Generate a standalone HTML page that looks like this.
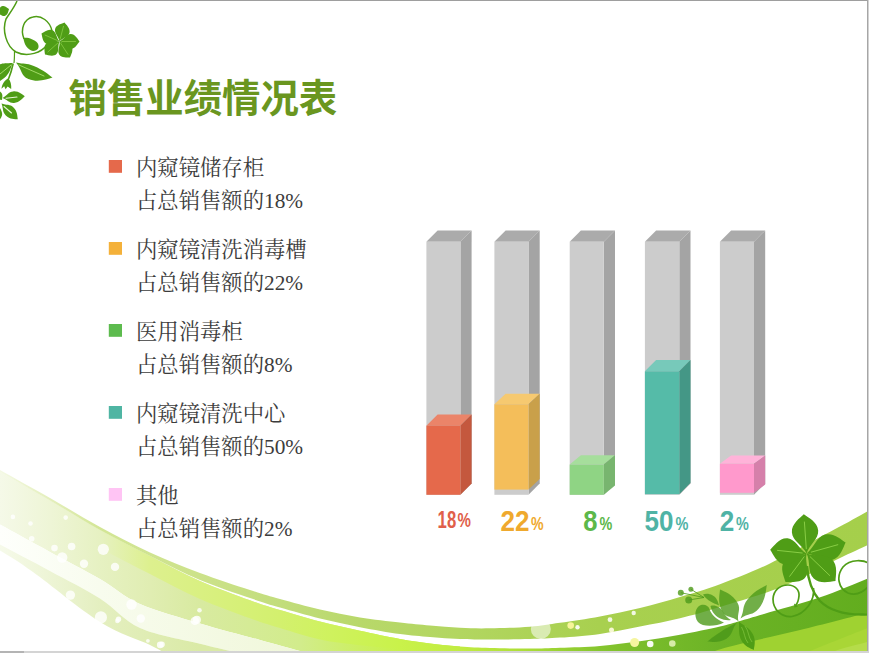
<!DOCTYPE html>
<html lang="zh-CN"><head><meta charset="utf-8"><title>销售业绩情况表</title>
<style>
html,body{margin:0;padding:0;background:#fff}
body{width:869px;height:653px;position:relative;overflow:hidden;font-family:"Liberation Sans","Noto Sans CJK SC",sans-serif}
#art{position:absolute;left:0;top:0;width:869px;height:653px;display:block}
.bt{position:absolute;left:0;top:0;width:869px;height:1px;background:#9e9e9e}
.br{position:absolute;left:867px;top:0;width:1px;height:653px;background:#a6a6a6;border-right:1px solid #d2d2d2}
.bb{position:absolute;left:0;top:651px;width:869px;height:2px;background:#d4d4d4}
.bb i{display:block;width:24px;height:2px;background:#b4b4b4}
.t{color:transparent}
h1.t{position:absolute;left:68px;top:72px;margin:0;font-size:38.4px;line-height:50px;font-weight:bold;white-space:nowrap;letter-spacing:0}
ul.t{list-style:none;margin:0;padding:0}
ul.t li{position:absolute;left:135px;width:260px;font-family:"Liberation Serif","Noto Serif CJK SC",serif;font-size:21.33px;line-height:33px;white-space:nowrap}
ul.t p{margin:0}
.lab{position:absolute;left:0;top:505px;height:30px;font-weight:bold;font-size:24px;line-height:30px}
.lab span{position:absolute;top:0;white-space:nowrap}
</style></head>
<body>
<svg id="art" width="869" height="653" viewBox="0 0 869 653" aria-hidden="true">
<defs>
<linearGradient id="gRim" gradientUnits="userSpaceOnUse" x1="0" y1="0" x2="869" y2="0"><stop offset="0.000" stop-color="#F4F9E4"/><stop offset="0.058" stop-color="#E4EFBC"/><stop offset="0.115" stop-color="#D3E696"/><stop offset="0.230" stop-color="#CCE28A"/><stop offset="0.322" stop-color="#C2DD7C"/><stop offset="0.414" stop-color="#B8D86A"/><stop offset="0.529" stop-color="#B2D660"/><stop offset="0.690" stop-color="#A8D04F"/><stop offset="1.000" stop-color="#A5CF4B"/></linearGradient>
<linearGradient id="gBody" gradientUnits="userSpaceOnUse" x1="0" y1="0" x2="869" y2="0"><stop offset="0.000" stop-color="#F5F9E8"/><stop offset="0.058" stop-color="#EEF5D6"/><stop offset="0.115" stop-color="#E6F1C2"/><stop offset="0.173" stop-color="#E0EDB2"/><stop offset="0.230" stop-color="#D8EAA0"/><stop offset="0.345" stop-color="#D2EC8C"/><stop offset="0.414" stop-color="#CCEF62"/><stop offset="0.460" stop-color="#C9F24A"/><stop offset="0.529" stop-color="#C1EC42"/><stop offset="0.598" stop-color="#AEDF38"/><stop offset="0.690" stop-color="#85C52E"/><stop offset="0.736" stop-color="#7ABD2B"/><stop offset="0.829" stop-color="#6CB326"/><stop offset="1.000" stop-color="#62AD1E"/></linearGradient>
<linearGradient id="gBright" gradientUnits="userSpaceOnUse" x1="0" y1="0" x2="869" y2="0"><stop offset="0.000" stop-color="#F5F9E8"/><stop offset="0.058" stop-color="#EEF5D6"/><stop offset="0.115" stop-color="#E6F1C2"/><stop offset="0.173" stop-color="#DDF08E"/><stop offset="0.322" stop-color="#D3F06E"/><stop offset="0.380" stop-color="#CFF25E"/><stop offset="0.460" stop-color="#C9F24A"/><stop offset="0.529" stop-color="#C1EC42"/></linearGradient>
<linearGradient id="gLow" gradientUnits="userSpaceOnUse" x1="0" y1="0" x2="200" y2="0"><stop offset="0.000" stop-color="#F6FAEA"/><stop offset="0.500" stop-color="#E4EFC0"/><stop offset="1.000" stop-color="#DAEAA6"/></linearGradient>
<linearGradient id="gW1" gradientUnits="userSpaceOnUse" x1="0" y1="0" x2="300" y2="0"><stop offset="0.000" stop-color="#FEFFFC"/><stop offset="0.333" stop-color="#F8FCEE"/><stop offset="1.000" stop-color="#F0F7DA"/></linearGradient>
</defs>
<path d="M-20,461C-16.7,462.8 -11.7,465.4 0,472C11.7,478.6 33.3,490.8 50,500.5C66.7,510.2 83.3,520.8 100,530C116.7,539.2 133.3,547.5 150,556C166.7,564.5 183.3,573.6 200,581C216.7,588.4 236.7,595.5 250,600.3C263.3,605.1 268.3,606.5 280,610C291.7,613.5 306.7,618 320,621.5C333.3,625 346.7,627.9 360,630.8C373.3,633.7 388.3,636.9 400,639C411.7,641.1 420,642.2 430,643.5C440,644.8 450,645.9 460,646.6C470,647.4 478.3,647.7 490,648C501.7,648.3 518.3,648.6 530,648.6C541.7,648.6 548.3,648.2 560,647.8C571.7,647.3 586.7,647 600,645.9C613.3,644.8 626.7,643.1 640,641.3C653.3,639.4 666.7,637.3 680,634.8C693.3,632.3 710,628.8 720,626.5C730,624.2 732.7,623.1 740,621C747.3,618.9 750.8,617.9 764,614C777.2,610.1 802,603.6 819.5,597.6C837,591.6 857.2,582.6 869,578C880.8,573.4 886.5,571.3 890,570L890,660C738.3,660 131.7,660 -20,660Z" fill="url(#gBody)"/>
<path d="M-20,461C-16.7,462.8 -11.7,465.4 0,472C11.7,478.6 33.3,490.8 50,500.5C66.7,510.2 83.3,520.8 100,530C116.7,539.2 133.3,547.5 150,556C166.7,564.5 183.3,573.6 200,581C216.7,588.4 236.7,595.5 250,600.3C263.3,605.1 268.3,606.5 280,610C291.7,613.5 306.7,618 320,621.5C333.3,625 346.7,627.9 360,630.8C373.3,633.7 388.3,636.9 400,639C411.7,641.1 420,642.2 430,643.5C440,644.8 455,646.1 460,646.6L460,649C455,649.1 440,649.6 430,649.5C420,649.4 411.7,649.3 400,648.6C388.3,647.9 373.3,646.7 360,645.2C346.7,643.7 333.3,642.4 320,639.5C306.7,636.6 291.7,631.5 280,628C268.3,624.5 263.3,623.1 250,618.3C236.7,613.5 216.7,606.4 200,599C183.3,591.6 166.7,582.5 150,574C133.3,565.5 116.7,557.2 100,548C83.3,538.8 66.7,528.2 50,518.5C33.3,508.8 11.7,496.6 0,490C-11.7,483.4 -16.7,480.8 -20,479Z" fill="url(#gBright)"/>
<path d="M-20,459C-16.7,460.8 -11.7,463.5 0,470C11.7,476.5 33.3,488.5 50,498C66.7,507.5 83.3,517.9 100,527C116.7,536.1 133.3,544.7 150,552.4C166.7,560.1 183.3,566.7 200,573C216.7,579.3 236.7,585.7 250,590C263.3,594.3 268.3,595.8 280,599C291.7,602.2 306.7,606.4 320,609.5C333.3,612.6 346.7,615.3 360,617.5C373.3,619.7 388.3,621.2 400,622.5C411.7,623.8 420,624.6 430,625.5C440,626.4 450,627.3 460,627.8C470,628.3 478.3,628.5 490,628.3C501.7,628.1 518.3,627.6 530,626.7C541.7,625.8 548.3,624.5 560,622.8C571.7,621.1 586.7,618.9 600,616.4C613.3,613.9 626.7,611.2 640,608C653.3,604.8 666.7,601 680,597C693.3,593 705,589.8 720,584.2C735,578.6 750.3,572.9 770,563.5C789.7,554.1 821.5,536.4 838,527.6C854.5,518.8 860.3,515.3 869,510.5C877.7,505.7 886.5,500.9 890,499L890,534C886.5,535.8 877.7,540.3 869,544.5C860.3,548.7 852.4,552 838,559C823.6,566 802.4,578.5 782.7,586.5C763,594.5 737.1,601.7 720,607C702.9,612.3 693.3,615 680,618.2C666.7,621.5 653.3,623.9 640,626.5C626.7,629.1 613.3,632 600,633.9C586.7,635.8 571.7,636.8 560,637.6C548.3,638.5 541.7,638.7 530,639C518.3,639.3 501.7,639.6 490,639.6C478.3,639.6 470,639.4 460,639C450,638.6 440,637.8 430,637C420,636.2 411.7,635.6 400,634C388.3,632.4 373.3,629.8 360,627.2C346.7,624.6 333.3,621.8 320,618.5C306.7,615.2 291.7,610.9 280,607.5C268.3,604.1 263.3,602.6 250,598C236.7,593.4 216.7,587 200,580C183.3,573 166.7,564.3 150,556C133.3,547.7 116.7,539.2 100,530C83.3,520.8 66.7,510.2 50,500.5C33.3,490.8 11.7,478.6 0,472C-11.7,465.4 -16.7,462.8 -20,461Z" fill="url(#gRim)"/>
<path d="M-20,514C-16.7,515.8 -11.7,518.3 0,524.6C11.7,530.9 33.3,542.9 50,552C66.7,561.1 85,570.3 100,579C115,587.7 123.3,596.6 140,604C156.7,611.4 180,617.4 200,623.4C220,629.4 243.3,635.4 260,640C276.7,644.6 290,648.3 300,651C310,653.7 316.7,655.2 320,656L320,670C263.3,670 36.7,670 -20,670Z" fill="#fff"/>
<path d="M-20,514C-16.7,515.8 -11.7,518.3 0,524.6C11.7,530.9 33.3,542.9 50,552C66.7,561.1 85,570.3 100,579C115,587.7 123.3,596.6 140,604C156.7,611.4 180,617.4 200,623.4C220,629.4 243.3,635.4 260,640C276.7,644.6 290,648.3 300,651C310,653.7 316.7,655.2 320,656L320,670C308.3,667.7 265,659.2 250,656C235,652.8 238.3,653 230,651C221.7,649 215,647.5 200,643.7C185,639.9 156.7,635.5 140,628C123.3,620.5 115,608.1 100,598.6C85,589.1 66.7,580 50,571C33.3,562 11.7,550.8 0,544.6C-11.7,538.4 -16.7,535.8 -20,534Z" fill="url(#gW1)"/>
<path d="M-20,534C-16.7,535.8 -11.7,538.4 0,544.6C11.7,550.8 33.3,562 50,571C66.7,580 85,589.1 100,598.6C115,608.1 123.3,620.5 140,628C156.7,635.5 185,639.9 200,643.7C215,647.5 221.7,649 230,651C238.3,653 246.7,655.2 250,656L170,656C166.7,654.2 161.7,650.7 150,645C138.3,639.3 119.5,634.2 100,622C80.5,609.8 49.7,583.9 33,572C16.3,560.1 8.8,555.8 0,550.5C-8.8,545.2 -16.7,541.8 -20,540Z" fill="url(#gLow)"/>
<path d="M690,660C694.2,658.5 706.7,653.7 715,651C723.3,648.3 725.8,647.5 740,644C754.2,640.5 778.5,635.2 800,630C821.5,624.8 854,616.3 869,612.5C884,608.7 886.5,607.9 890,607L890,670C856.7,670 723.3,670 690,670Z" fill="#9FD231"/>
<path d="M790,660C793.3,658.5 796.8,656.4 810,651C823.2,645.6 855.7,632.7 869,627.5C882.3,622.3 886.5,621.2 890,620L890,670C873.3,670 806.7,670 790,670Z" fill="#A9D636"/>
<path d="M820,660C822.5,658.5 826.8,654.1 835,651C843.2,647.9 859.8,644.2 869,641.5C878.2,638.8 886.5,636.1 890,635L890,670C878.3,670 831.7,670 820,670Z" fill="#B5DC4A"/>
<circle cx="540.8" cy="629" r="10" fill="#fff" fill-opacity="0.55"/>
<circle cx="570.7" cy="625.6" r="3.3" fill="#F7F59A" fill-opacity="1"/>
<circle cx="577.5" cy="627.3" r="2.2" fill="#fff" fill-opacity="0.9"/>
<circle cx="610" cy="619.7" r="2.4" fill="#fff" fill-opacity="0.85"/>
<circle cx="633.7" cy="613" r="2.2" fill="#fff" fill-opacity="0.85"/>
<circle cx="611.5" cy="630" r="2.5" fill="#FFFCE0" fill-opacity="0.9"/>
<circle cx="634.6" cy="642.5" r="4.5" fill="#F5F5A0" fill-opacity="1"/>
<circle cx="650.2" cy="644" r="3.3" fill="#fff" fill-opacity="0.95"/>
<circle cx="672.3" cy="643.5" r="3.3" fill="#D6ECA8" fill-opacity="1"/>
<circle cx="12.9" cy="516.9" r="2.3" fill="#fff" fill-opacity="0.8"/>
<circle cx="30.5" cy="523.5" r="2.3" fill="#fff" fill-opacity="0.8"/>
<circle cx="65.7" cy="517.6" r="2.3" fill="#fff" fill-opacity="0.8"/>
<circle cx="31.7" cy="538.7" r="2.8" fill="#fff" fill-opacity="0.8"/>
<circle cx="54.5" cy="548.1" r="3.3" fill="#fff" fill-opacity="0.8"/>
<circle cx="71.6" cy="546.5" r="3.8" fill="#fff" fill-opacity="0.8"/>
<circle cx="62.2" cy="557.5" r="5.2" fill="#fff" fill-opacity="0.8"/>
<circle cx="103.3" cy="549.3" r="5.6" fill="#fff" fill-opacity="0.8"/>
<circle cx="84" cy="563.8" r="4.2" fill="#fff" fill-opacity="0.8"/>
<circle cx="115" cy="566.9" r="4.2" fill="#fff" fill-opacity="0.8"/>
<circle cx="70.4" cy="595.1" r="4.7" fill="#fff" fill-opacity="0.8"/>
<circle cx="100.9" cy="617.4" r="6.1" fill="#fff" fill-opacity="0.8"/>
<circle cx="117.4" cy="620.9" r="2.3" fill="#fff" fill-opacity="0.8"/>
<circle cx="194.8" cy="620.9" r="4.2" fill="#fff" fill-opacity="0.8"/>
<circle cx="199.5" cy="610.3" r="2.3" fill="#fff" fill-opacity="0.8"/>
<circle cx="131.5" cy="604.5" r="5.2" fill="#fff" fill-opacity="0.8"/>
<circle cx="140.8" cy="618.5" r="4.2" fill="#fff" fill-opacity="0.8"/>
<circle cx="162" cy="644.4" r="2.8" fill="#fff" fill-opacity="0.8"/>
<circle cx="147.9" cy="640.8" r="1.9" fill="#fff" fill-opacity="0.8"/>
<circle cx="196.9" cy="619.8" r="4" fill="#fff" fill-opacity="0.85"/>
<circle cx="160.2" cy="644.9" r="3.3" fill="#fff" fill-opacity="0.85"/>
<circle cx="118.5" cy="619.2" r="2.7" fill="#fff" fill-opacity="0.85"/>
<path d="M806.6,553.4C802.7,545 792.5,541 791.9,532.4C791.2,523.8 800.1,517.9 803.8,514.2C808,517.4 817.6,521.9 818.2,530.5C818.8,539.1 809.3,544.5 806.6,553.4Z" fill="#4F9D16" fill-opacity="1"/>
<path d="M806.6,553.4C814.3,547.8 816.3,537 824.9,534.6C833.5,532.2 841.1,539.6 845.6,542.5C843.2,547.3 840.6,557.6 832,560C823.4,562.4 816.1,554.2 806.6,553.4Z" fill="#4F9D16" fill-opacity="1"/>
<path d="M806.6,553.4C815.2,557.1 825.5,553.2 831.9,559.3C838.3,565.4 835.7,575.7 835.5,581C830.2,581.4 820,584.5 813.7,578.4C807.3,572.3 810.7,561.9 806.6,553.4Z" fill="#4F9D16" fill-opacity="1"/>
<path d="M806.6,553.4C804.6,561.7 810,571 805.4,577.3C800.8,583.5 790.5,581.8 785.5,582C784.2,577.1 779.5,567.9 784.2,561.6C788.8,555.3 799.3,557.7 806.6,553.4Z" fill="#4F9D16" fill-opacity="1"/>
<path d="M806.6,553.4C798.3,555.9 792.9,565.3 784.9,564.5C776.9,563.6 773,554 770.2,549.7C773.8,546.1 779.5,537.4 787.6,538.2C795.6,539 798.9,549.3 806.6,553.4Z" fill="#4F9D16" fill-opacity="1"/>
<path d="M806.3,548.7 L804.4,522" stroke="#8FD24A" stroke-width="0.9" fill="none" stroke-linecap="round"/>
<path d="M811.3,552.1 L837.8,544.7" stroke="#8FD24A" stroke-width="0.9" fill="none" stroke-linecap="round"/>
<path d="M810.1,556.7 L829.7,575.5" stroke="#8FD24A" stroke-width="0.9" fill="none" stroke-linecap="round"/>
<path d="M804.1,556.8 L789.7,576.3" stroke="#8FD24A" stroke-width="0.9" fill="none" stroke-linecap="round"/>
<path d="M802.2,553 L777.5,550.4" stroke="#8FD24A" stroke-width="0.9" fill="none" stroke-linecap="round"/>
<path d="M807,566C808,580 812,592 820,601C830,611 848,616 872,614" stroke="#4F9D16" stroke-width="2.4" fill="none"/>
<path d="M813.5,588C815,600 806,614 792,616.5C781,617.5 773,609 773,599C773.5,590 780,585 788,585C795,585 799.5,590 799,596C798.5,601 797,604 795.5,605.5" stroke="#4F9D16" stroke-width="1.7" fill="none"/>
<path d="M794,603.5L798,606.5L794.5,607.5Z" fill="#4F9D16"/>
<path d="M872,565C864,559 850,559 843,567C836,576 838,588 848,593C856,596 864,592 870,585" stroke="#4F9D16" stroke-width="1.7" fill="none"/>
<path d="M738.4,621.2C732,615.6 726.4,618.5 722.3,611.5C717.3,602.8 719.7,594.4 720,589.6C724.2,591.8 732.4,594 737.5,602.7C741.5,609.7 736.6,613 738.4,621.2Z" fill="#4E9A1A" fill-opacity="0.8"/>
<path d="M740.5,618.5C744.8,610 741.7,607 747.5,599.6C754.7,590.4 762.4,587.6 766.8,585.1C765.8,590.3 766,599.4 758.8,608.5C753,615.9 748.2,612.7 740.5,618.5Z" fill="#4E9A1A" fill-opacity="0.8"/>
<path d="M724,622.5C716,626.5 703,627.5 698,622C693.5,616 695,607 701,605C705,604 708.5,606 709.5,609C711,614 716,619.5 724,622.5Z" fill="#4E9A1A" fill-opacity="0.8"/>
<path d="M710.5,606C715,604.5 720,607 722.5,611C725,615 727,618 731,620C724,621 717,618 713.5,613C712,611 711,608.5 710.5,606Z" fill="#4E9A1A" fill-opacity="0.8"/>
<path d="M703,594.5C708,592.5 714,595 716.5,599C718,601.5 718.5,603.5 719,605.5C714,603 707,601 703,594.5Z" fill="#4E9A1A" fill-opacity="0.8"/>
<path d="M737,622.5C731.8,628.7 733,634.6 726.5,638.7C719,643.5 711.6,641.6 707.3,641.5C710.1,639.3 714.2,635.9 721.6,631.2C728.1,627 730.3,626.4 737,622.5Z" fill="#4E9A1A" fill-opacity="0.92"/>
<path d="M739,621.8C745.1,626.5 749.6,628.1 752.9,634.3C756.2,640.6 754.2,646.6 753.8,650C750.7,648.4 744.7,646.7 741.4,640.3C738.1,634.1 739.4,629.5 739,621.8Z" fill="#4F9D16" fill-opacity="1"/>
<path d="M741.5,627C745,633 744,638 748,643M745,626C749,631 748,637 752,642" stroke="#7CC23C" stroke-width=".8" fill="none"/>
<circle cx="680.8" cy="592.7" r="3" fill="#4E9A1A" fill-opacity="0.8"/>
<path d="M680.8,592.7 L704,597.5" stroke="#4E9A1A" stroke-width="1" stroke-opacity="0.8"/>
<circle cx="690.9" cy="589.2" r="2.5" fill="#4E9A1A" fill-opacity="0.8"/>
<path d="M690.9,589.2 L704,597.5" stroke="#4E9A1A" stroke-width="1" stroke-opacity="0.8"/>
<circle cx="688.7" cy="600" r="3.5" fill="#4E9A1A" fill-opacity="0.8"/>
<path d="M688.7,600 L704,597.5" stroke="#4E9A1A" stroke-width="1" stroke-opacity="0.8"/>
<path d="M17,1C14,8 9,14 6,19C2,30 6,46 16,52C28,58 42,52 47,45" stroke="#4F9D16" stroke-width="1.5" fill="none"/>
<path d="M52,31C50,21 41,15 33,17C24,19 20,29 24,39" stroke="#4F9D16" stroke-width="1.5" fill="none"/>
<path d="M14.5,51C14.5,56 14.5,59 14,63" stroke="#4F9D16" stroke-width="1.2" fill="none"/>
<path d="M9,9C7.8,13.2 7.6,14.8 5.2,15.7C2.5,16.7 -0.4,14 -2,13C-1.4,11.2 -1,7.3 1.8,6.3C4.2,5.4 5.4,6.6 9,9Z" fill="#4F9D16" fill-opacity="1"/>
<path d="M23.5,38C27,37 34,39 37.5,43C40,47 38,51 33,51C28,50 24,45 23.5,38Z" fill="#4F9D16"/>
<path d="M59.5,41.5C58.8,36.8 54,33.2 55.1,29C56.2,24.8 61.9,23.6 64.5,22.5C66.2,24.7 70.6,28.6 69.5,32.7C68.4,36.9 62.4,37.8 59.5,41.5Z" fill="#4F9D16" fill-opacity="1"/>
<path d="M59.5,41.5C63.9,39.6 66.3,34.1 70.7,34.1C75.1,34.1 77.7,39.3 79.5,41.5C77.7,43.7 75.1,48.9 70.7,48.9C66.3,48.9 63.9,43.4 59.5,41.5Z" fill="#4F9D16" fill-opacity="1"/>
<path d="M59.5,41.5C63.4,44 69.3,42.9 71.6,46.4C73.9,49.9 70.9,54.9 70,57.5C67.2,57.3 61.5,58 59.2,54.5C56.9,51 60.3,46 59.5,41.5Z" fill="#4F9D16" fill-opacity="1"/>
<path d="M59.5,41.5C57.5,45.7 59.5,51.4 56.3,54.3C53.1,57.1 47.8,55 45,54.5C44.8,51.7 43.3,46.1 46.4,43.3C49.6,40.4 55.1,43 59.5,41.5Z" fill="#4F9D16" fill-opacity="1"/>
<path d="M59.5,41.5C54.8,41.4 50.4,45.5 46.4,43.8C42.5,42 42.2,36.2 41.5,33.5C44,32.2 48.5,28.5 52.4,30.3C56.4,32 56.3,38 59.5,41.5Z" fill="#4F9D16" fill-opacity="1"/>
<path d="M60.1,39.2 L63.5,26.3" stroke="#8FD24A" stroke-width="0.7" fill="none" stroke-linecap="round"/>
<path d="M61.9,41.5 L75.5,41.5" stroke="#8FD24A" stroke-width="0.7" fill="none" stroke-linecap="round"/>
<path d="M60.8,43.4 L67.9,54.3" stroke="#8FD24A" stroke-width="0.7" fill="none" stroke-linecap="round"/>
<path d="M57.8,43.1 L47.9,51.9" stroke="#8FD24A" stroke-width="0.7" fill="none" stroke-linecap="round"/>
<path d="M57.3,40.5 L45.1,35.1" stroke="#8FD24A" stroke-width="0.7" fill="none" stroke-linecap="round"/>
<path d="M16,62.5C24.6,64.5 25.7,62.7 33.8,66C43.8,70.1 48.9,74.9 52.5,77.5C47.3,78.8 38.5,83.1 28.4,79C20.4,75.7 22.4,69.7 16,62.5Z" fill="#4F9D16" fill-opacity="1"/>
<path d="M19,65 L44,76" stroke="#B5E87A" stroke-width="0.8" fill="none" stroke-linecap="round"/>
<path d="M12.5,63C9.8,70.8 9.5,73.4 4.2,78.1C-2,83.3 -8.4,83.3 -12,84C-11.1,80.1 -11.1,72.7 -5,67.4C0.4,62.8 3.5,63.4 12.5,63Z" fill="#4F9D16" fill-opacity="1"/>
<path d="M11,65 L0,74" stroke="#B5E87A" stroke-width="0.8" fill="none" stroke-linecap="round"/>
<path d="M8.3,78.3C5,80 2,84 1.5,88.7L4.2,86.3L5.6,89.2L7.6,86.4L11.2,89C11.6,85 10.6,81 8.3,78.3Z" fill="#4F9D16"/>
<path d="M13.2,63.5C12,69 10.5,74 8.5,79" stroke="#4F9D16" stroke-width="1.6" fill="none"/>
<path d="M2.5,98C7.2,95.3 8.3,91.7 13.2,91.4C18.8,90.9 22.4,94.7 24.8,96.3C22.7,98.2 19.7,102.5 14.1,102.9C9.2,103.3 7.6,99.9 2.5,98Z" fill="#4F9D16" fill-opacity="1"/>
<path d="M6,98.2 L17,97" stroke="#E8F6D8" stroke-width="1.1" fill="none" stroke-linecap="round"/>
<path d="M1.5,103.5C6.6,105.4 10,103.9 13.5,107.4C17.6,111.3 17.3,116.5 17.8,119.3C15,118.9 9.8,119.4 5.8,115.4C2.2,111.9 3.5,108.6 1.5,103.5Z" fill="#4F9D16" fill-opacity="1"/>
<path d="M4,106.5 L11.5,113" stroke="#E8F6D8" stroke-width="1.1" fill="none" stroke-linecap="round"/>
<path d="M2,100C-1.9,99.5 -3.4,99.7 -5.1,97.5C-7.1,95 -6.1,91.7 -6,90C-4.3,90.3 -0.9,90 1.1,92.5C2.9,94.7 2.4,96.1 2,100Z" fill="#4F9D16" fill-opacity="1"/>
<path d="M0,108C1.8,111.8 2.7,113 1.8,116.1C0.8,119.6 -2.4,120.9 -4,122C-4.8,120.3 -6.8,117.4 -5.8,113.9C-5,110.8 -3.6,110.3 0,108Z" fill="#4F9D16" fill-opacity="1"/>
<path d="M426.4,241.8L437.6,230.4L471.6,230.4L460.4,241.8Z" fill="#ABABAB"/>
<path d="M460.4,241.8L471.6,230.4L471.6,483.4L460.4,494.8Z" fill="#A4A4A4"/>
<rect x="426.4" y="241.8" width="34" height="253" fill="#CCCCCC"/>
<path d="M426.4,425.7L437.6,414.4L471.6,414.4L460.4,425.7Z" fill="#EB8469"/>
<path d="M460.4,425.7L471.6,414.4L471.6,483.5L460.4,494.8Z" fill="#C4583E"/>
<rect x="426.4" y="425.7" width="34" height="69.1" fill="#E5694B"/>
<path d="M494.4,241.8L505.6,230.4L539.7,230.4L528.5,241.8Z" fill="#ABABAB"/>
<path d="M528.5,241.8L539.7,230.4L539.7,483.4L528.5,494.8Z" fill="#A4A4A4"/>
<rect x="494.4" y="241.8" width="34.1" height="253" fill="#CCCCCC"/>
<path d="M494.4,404.3L505.6,393.7L539.7,393.7L528.5,404.3Z" fill="#F6C970"/>
<path d="M528.5,404.3L539.7,393.7L539.7,479L528.5,489.6Z" fill="#C9A04A"/>
<rect x="494.4" y="404.3" width="34.1" height="85.3" fill="#F4BE5A"/>
<path d="M569.7,241.8L580.9,230.4L615,230.4L603.8,241.8Z" fill="#ABABAB"/>
<path d="M603.8,241.8L615,230.4L615,483.4L603.8,494.8Z" fill="#A4A4A4"/>
<rect x="569.7" y="241.8" width="34.1" height="253" fill="#CCCCCC"/>
<path d="M569.7,464.6L580.9,455.3L615,455.3L603.8,464.6Z" fill="#A6DE9C"/>
<path d="M603.8,464.6L615,455.3L615,485.5L603.8,494.8Z" fill="#78B56F"/>
<rect x="569.7" y="464.6" width="34.1" height="30.2" fill="#8FD484"/>
<path d="M644.9,241.8L656.1,230.4L690.5,230.4L679.3,241.8Z" fill="#ABABAB"/>
<path d="M679.3,241.8L690.5,230.4L690.5,483.4L679.3,494.8Z" fill="#A4A4A4"/>
<rect x="644.9" y="241.8" width="34.4" height="253" fill="#CCCCCC"/>
<path d="M644.9,371.3L656.1,359.9L690.5,359.9L679.3,371.3Z" fill="#77C9BA"/>
<path d="M679.3,371.3L690.5,359.9L690.5,482.8L679.3,494.2Z" fill="#449786"/>
<rect x="644.9" y="371.3" width="34.4" height="122.9" fill="#55BBA8"/>
<path d="M719.9,241.8L731.1,230.4L765.2,230.4L754,241.8Z" fill="#ABABAB"/>
<path d="M754,241.8L765.2,230.4L765.2,483.4L754,494.8Z" fill="#A4A4A4"/>
<rect x="719.9" y="241.8" width="34.1" height="253" fill="#CCCCCC"/>
<path d="M719.9,463.8L731.1,455.6L765.2,455.6L754,463.8Z" fill="#FFB3D9"/>
<path d="M754,463.8L765.2,455.6L765.2,484.6L754,492.8Z" fill="#D580AA"/>
<rect x="719.9" y="463.8" width="34.1" height="29" fill="#FF99CC"/>
<rect x="108.8" y="160" width="13.2" height="12.8" fill="#E5694B"/>
<rect x="108.8" y="242" width="13.2" height="12.8" fill="#F4B13A"/>
<rect x="108.8" y="324" width="13.2" height="12.8" fill="#5DBB4E"/>
<rect x="108.8" y="406" width="13.2" height="12.8" fill="#4FB5A3"/>
<rect x="108.8" y="488" width="13.2" height="12.8" fill="#FFC4F4"/>
<text x="68.5" y="112.3" font-family="'Liberation Sans','Noto Sans CJK SC',sans-serif" font-size="38.4" font-weight="bold" fill="#6A961F">销售业绩情况表</text>
<g font-family="'Liberation Serif','Noto Serif CJK SC',serif" font-size="21.33" fill="#3c3c3c">
<text x="136" y="175">内窥镜储存柜</text>
<text x="136" y="208">占总销售额的18%</text>
<text x="136" y="257">内窥镜清洗消毒槽</text>
<text x="136" y="290">占总销售额的22%</text>
<text x="136" y="339">医用消毒柜</text>
<text x="136" y="372">占总销售额的8%</text>
<text x="136" y="421">内窥镜清洗中心</text>
<text x="136" y="454">占总销售额的50%</text>
<text x="136" y="503">其他</text>
<text x="136" y="536">占总销售额的2%</text>
</g>
<g font-family="'Liberation Sans',sans-serif" font-weight="bold">
<text x="437.6" y="527.9" font-size="23" fill="#E0604A" textLength="18.6" lengthAdjust="spacingAndGlyphs">18</text>
<text x="457.6" y="527.4" font-size="21" fill="#E0604A" textLength="13.4" lengthAdjust="spacingAndGlyphs">%</text>
<text x="500.4" y="530.6" font-size="30" fill="#EFA92E" textLength="29" lengthAdjust="spacingAndGlyphs">22</text>
<text x="531" y="530.1" font-size="19" fill="#EFA92E" textLength="12.6" lengthAdjust="spacingAndGlyphs">%</text>
<text x="583.3" y="530.6" font-size="30" fill="#5DB84A" textLength="14.2" lengthAdjust="spacingAndGlyphs">8</text>
<text x="599.4" y="530.1" font-size="19" fill="#5DB84A" textLength="12.8" lengthAdjust="spacingAndGlyphs">%</text>
<text x="644.5" y="530.6" font-size="30" fill="#4FB3A5" textLength="28.9" lengthAdjust="spacingAndGlyphs">50</text>
<text x="675.5" y="530.1" font-size="19" fill="#4FB3A5" textLength="12.9" lengthAdjust="spacingAndGlyphs">%</text>
<text x="719.7" y="530.6" font-size="30" fill="#4FB3A5" textLength="14.5" lengthAdjust="spacingAndGlyphs">2</text>
<text x="736.1" y="530.1" font-size="19" fill="#4FB3A5" textLength="12.8" lengthAdjust="spacingAndGlyphs">%</text>
</g>
</svg>
<div class="bt"></div><div class="br"></div><div class="bb"><i></i></div>
<h1 class="t">销售业绩情况表</h1>
<ul class="t">
<li style="top:154px"><p>内窥镜储存柜</p><p>占总销售额的18%</p></li>
<li style="top:236px"><p>内窥镜清洗消毒槽</p><p>占总销售额的22%</p></li>
<li style="top:318px"><p>医用消毒柜</p><p>占总销售额的8%</p></li>
<li style="top:400px"><p>内窥镜清洗中心</p><p>占总销售额的50%</p></li>
<li style="top:482px"><p>其他</p><p>占总销售额的2%</p></li>
</ul>
<div class="lab t"><span style="left:437px;width:36px">18%</span><span style="left:500px;width:45px">22%</span><span style="left:583px;width:31px">8%</span><span style="left:644px;width:46px">50%</span><span style="left:719px;width:31px">2%</span></div>
</body></html>
